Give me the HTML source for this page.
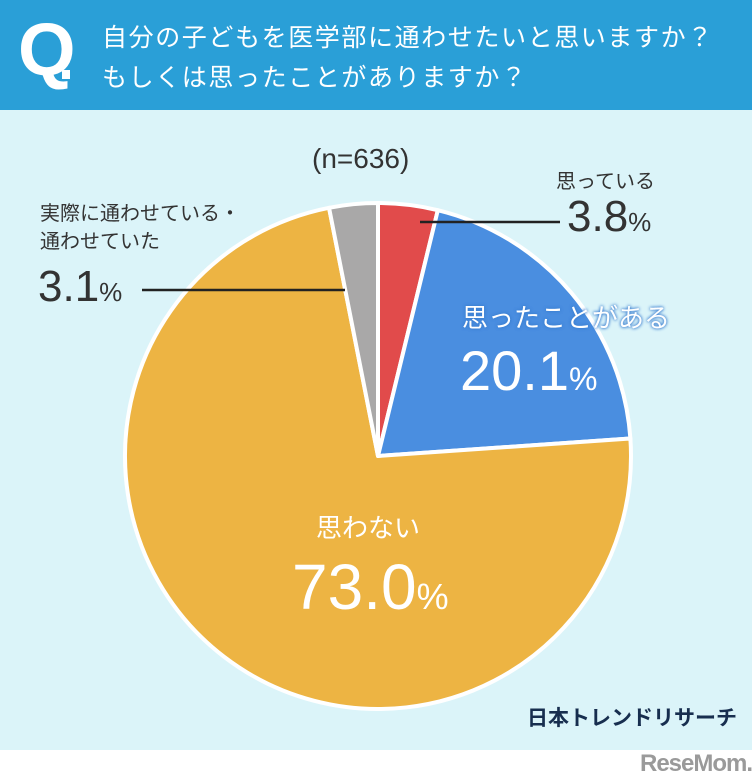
<!DOCTYPE html>
<html><head><meta charset="utf-8">
<style>
html,body{margin:0;padding:0;}
body{width:752px;height:782px;position:relative;overflow:hidden;background:#fff;font-family:"Liberation Sans","Noto Sans CJK JP",sans-serif;}
#hdr{position:absolute;left:0;top:0;width:752px;height:110px;background:#2a9fd7;}
#bg{position:absolute;left:0;top:110px;width:752px;height:640px;background:#dbf4f9;}
.t{position:absolute;white-space:nowrap;}
</style></head><body>
<div id="hdr">
  <div class="t" style="left:18px;top:10px;font-size:74px;font-weight:bold;color:#fff;line-height:80px;">Q</div>
  <div class="t" style="left:62px;top:70px;width:8px;height:9px;background:#fff;"></div>
  <div class="t" style="left:102px;top:18px;font-size:25px;color:#fff;letter-spacing:1.6px;">自分の子どもを医学部に通わせたいと思いますか？</div>
  <div class="t" style="left:102px;top:58px;font-size:25px;color:#fff;letter-spacing:1.6px;">もしくは思ったことがありますか？</div>
</div>
<div id="bg"></div>
<svg id="chart" width="752" height="782" style="position:absolute;left:0;top:0"></svg>
<div class="t" style="left:312px;top:143px;font-size:28px;color:#333;">(n=636)</div>
<div class="t" style="left:556px;top:165px;font-size:20px;color:#333;">思っている</div>
<div class="t" style="left:567px;top:192px;font-size:44px;color:#333;">3.8<span style="font-size:26px">%</span></div>
<div class="t" style="left:40px;top:200px;font-size:20px;color:#333;line-height:28px;">実際に通わせている・<br>通わせていた</div>
<div class="t" style="left:38px;top:262px;font-size:44px;color:#333;">3.1<span style="font-size:26px">%</span></div>
<div class="t" style="left:462px;top:298px;font-size:26px;color:#fff;text-shadow:0 0 3px #3a7ed0,0 0 3px #3a7ed0;">思ったことがある</div>
<div class="t" style="left:460px;top:338px;font-size:56px;color:#fff;">20.1<span style="font-size:32px">%</span></div>
<div class="t" style="left:316px;top:508px;font-size:26px;color:#fff;">思わない</div>
<div class="t" style="left:292px;top:550px;font-size:64px;color:#fff;">73.0<span style="font-size:36px">%</span></div>
<div class="t" style="left:527px;top:702px;font-size:21px;font-weight:bold;color:#172e4f;">日本トレンドリサーチ</div>
<div class="t" style="left:640px;top:750px;font-size:24px;font-weight:bold;color:#9a9a9a;letter-spacing:-1px;">ReseMom.</div>
<script>
const categories=["思っている","思ったことがある","思わない","実際に通わせている・通わせていた"];
const values=[3.8,20.1,73.0,3.1];
const colors=["#e14b4b","#4a8ee0","#edb443","#a9a8a8"];
const svg=document.getElementById('chart');
const NS="http://www.w3.org/2000/svg";
const cx=378,cy=456,r=253;
const total=values.reduce((a,b)=>a+b,0);
function pt(f,rr){const a=f*2*Math.PI;return [cx+rr*Math.sin(a),cy-rr*Math.cos(a)];}
let acc=0;
values.forEach((v,i)=>{
  const f0=acc/total,f1=(acc+v)/total;acc+=v;
  const p0=pt(f0,r),p1=pt(f1,r);
  const large=(f1-f0)>0.5?1:0;
  const p=document.createElementNS(NS,'path');
  p.setAttribute('d',`M${cx},${cy}L${p0[0]},${p0[1]}A${r},${r} 0 ${large} 1 ${p1[0]},${p1[1]}Z`);
  p.setAttribute('fill',colors[i]);
  p.setAttribute('stroke','#fff');
  p.setAttribute('stroke-width','4');
  p.setAttribute('stroke-linejoin','round');
  
  
  svg.appendChild(p);
});
function line(x1,y1,x2,y2,name){
  const l=document.createElementNS(NS,'line');
  l.setAttribute('x1',x1);l.setAttribute('y1',y1);l.setAttribute('x2',x2);l.setAttribute('y2',y2);
  l.setAttribute('stroke','#222');l.setAttribute('stroke-width','2.5');
  
  
  svg.appendChild(l);
}
line(420,222,560,222,'leader-omotteiru');
line(142,290,345,290,'leader-jissai');
</script>
</body></html>
